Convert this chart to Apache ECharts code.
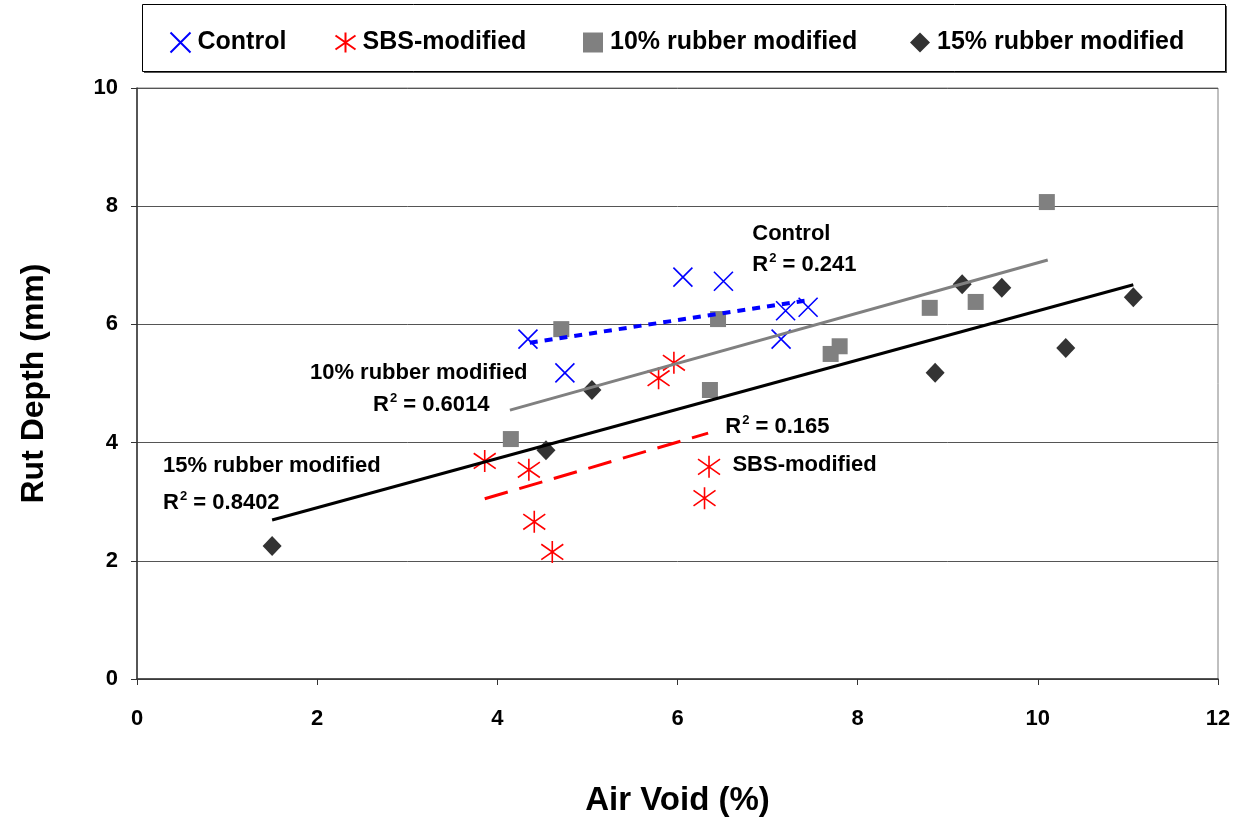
<!DOCTYPE html>
<html><head><meta charset="utf-8">
<script src="https://cdn.jsdelivr.net/npm/echarts@6/dist/echarts.min.js"></script>
<style>html,body{margin:0;padding:0;background:#fff}#c{width:1248px;height:822px}</style>
</head><body><div id="c"></div>
<script>
// ---- data ----
const seriesNames = ['Control', 'SBS-modified', '10% rubber modified', '15% rubber modified'];

const controlX = [4.34, 4.75, 6.06, 6.51, 7.20, 7.45, 7.15];
const controlY = [5.75, 5.18, 6.80, 6.73, 6.23, 6.29, 5.75];

const sbsX = [3.86, 4.35, 4.41, 4.61, 5.79, 5.96, 6.35, 6.30];
const sbsY = [3.69, 3.54, 2.66, 2.15, 5.09, 5.35, 3.59, 3.06];

const rub10X = [4.15, 4.71, 6.45, 6.36, 7.70, 7.80, 8.80, 9.31, 10.10];
const rub10Y = [4.06, 5.92, 6.09, 4.89, 5.50, 5.63, 6.28, 6.38, 8.07];

const rub15X = [1.50, 4.54, 5.05, 9.16, 9.60, 8.86, 10.31, 11.06];
const rub15Y = [2.25, 3.87, 4.89, 6.68, 6.62, 5.18, 5.60, 6.46];

// trend line end points (x1, y1, x2, y2) as drawn in the reference
const controlTrend = [4.36, 5.69, 7.45, 6.41];
const sbsTrend = [3.86, 3.05, 6.34, 4.16];
const rub10Trend = [4.14, 4.55, 10.11, 7.09];
const rub15Trend = [1.50, 2.69, 11.06, 6.67];

// annotation labels (text, anchor in data coords)
const noteText = ['Control', 'R2=0.241', '10% rubber modified', 'R2=0.6014', '15% rubber modified', 'R2=0.8402', 'R2=0.165', 'SBS-modified'];
const noteX = [6.83, 6.83, 1.92, 2.62, 0.29, 0.29, 6.53, 6.61];
const noteY = [7.53, 7.01, 5.18, 4.64, 3.61, 2.98, 4.26, 3.63];

const xTicks = {min: 0, max: 12, interval: 2};
const yTicks = {min: 0, max: 10, interval: 2};

// ---- chart ----
const FONT = '"Liberation Sans", Arial, sans-serif';
const zip = (a, b) => a.map((v, i) => [v, b[i]]);
const seg = t => [[t[0], t[1]], [t[2], t[3]]];

const chart = echarts.init(document.getElementById('c'));

const legendLeft = [168, 333, 583, 910];
const legends = seriesNames.map((n, i) => ({
  data: [n], left: legendLeft[i], top: 30, padding: 0,
  itemWidth: 20, itemHeight: 20, itemGap: 0,
  textStyle: {fontFamily: FONT, fontWeight: 'bold', fontSize: 25, color: '#000', padding: [0, 0, 0, 2]}
}));

function noteLabel(t) {
  if (t.startsWith('R2=')) {
    return '{t|R}{s|2}{t| = ' + t.slice(3) + '}';
  }
  return '{t|' + t + '}';
}

const option = {
  animation: false,
  backgroundColor: '#fff',
  graphic: [
    {type: 'rect', left: 144, top: 6, shape: {width: 1083, height: 67}, style: {fill: '#555'}, z: -2},
    {type: 'rect', left: 142, top: 4, shape: {width: 1083, height: 67}, style: {fill: '#fff', stroke: '#000', lineWidth: 1}, z: -1}
  ],
  legend: legends,
  grid: {left: 137, right: 30, top: 88, bottom: 143, show: true, borderColor: '#808080', borderWidth: 1},
  xAxis: {
    type: 'value', min: xTicks.min, max: xTicks.max, interval: xTicks.interval,
    name: 'Air Void (%)', nameLocation: 'middle', nameGap: 105,
    nameTextStyle: {fontFamily: FONT, fontWeight: 'bold', fontSize: 33, color: '#000'},
    axisLine: {show: true, onZero: false, lineStyle: {color: '#333', width: 1.5}},
    axisTick: {show: true, length: 6, lineStyle: {color: '#333'}},
    axisLabel: {margin: 29, fontFamily: FONT, fontWeight: 'bold', fontSize: 22, color: '#000'},
    splitLine: {show: false}
  },
  yAxis: {
    type: 'value', min: yTicks.min, max: yTicks.max, interval: yTicks.interval,
    name: 'Rut Depth (mm)', nameLocation: 'middle', nameGap: 87,
    nameTextStyle: {fontFamily: FONT, fontWeight: 'bold', fontSize: 32, color: '#000'},
    axisLine: {show: true, onZero: false, lineStyle: {color: '#333', width: 1.5}},
    axisTick: {show: true, length: 6, lineStyle: {color: '#333'}},
    axisLabel: {margin: 19, fontFamily: FONT, fontWeight: 'bold', fontSize: 22, color: '#000'},
    splitLine: {show: true, lineStyle: {color: '#555', width: 1}}
  },
  series: [
    {name: seriesNames[0], type: 'scatter', data: zip(controlX, controlY),
     symbol: 'path://M0,0L10,10M10,0L0,10', symbolSize: 19,
     itemStyle: {color: 'none', borderColor: '#0000ff', borderWidth: 1.6, opacity: 1}},
    {name: seriesNames[1], type: 'scatter', data: zip(sbsX, sbsY),
     symbol: 'path://M5,0L5,10M0,1.5L10,8.5M10,1.5L0,8.5', symbolSize: 22,
     itemStyle: {color: 'none', borderColor: '#ff0000', borderWidth: 1.6, opacity: 1}},
    {name: seriesNames[2], type: 'scatter', data: zip(rub10X, rub10Y),
     symbol: 'rect', symbolSize: 16, itemStyle: {color: '#808080', opacity: 1}},
    {name: seriesNames[3], type: 'scatter', data: zip(rub15X, rub15Y),
     symbol: 'diamond', symbolSize: [19, 20], itemStyle: {color: '#333333', opacity: 1}},
    {type: 'line', data: seg(controlTrend), showSymbol: false, symbol: 'none', silent: true,
     lineStyle: {color: '#0000ff', width: 4, type: [8, 7]}, z: 3},
    {type: 'line', data: seg(sbsTrend), showSymbol: false, symbol: 'none', silent: true,
     lineStyle: {color: '#ff0000', width: 3, type: [24, 12]}, z: 3},
    {type: 'line', data: seg(rub10Trend), showSymbol: false, symbol: 'none', silent: true,
     lineStyle: {color: '#808080', width: 3}, z: 3},
    {type: 'line', data: seg(rub15Trend), showSymbol: false, symbol: 'none', silent: true,
     lineStyle: {color: '#000', width: 3}, z: 3},
    {type: 'scatter', silent: true, symbolSize: 0, z: 5,
     itemStyle: {opacity: 1},
     data: noteText.map((t, i) => ({value: [noteX[i], noteY[i]], name: t})),
     label: {
       show: true, position: 'right', distance: 0, color: '#000',
       formatter: p => noteLabel(p.name),
       rich: {
         t: {fontFamily: FONT, fontWeight: 'bold', fontSize: 22, color: '#000', lineHeight: 26},
         s: {fontFamily: FONT, fontWeight: 'bold', fontSize: 13, color: '#000', lineHeight: 26, verticalAlign: 'top', padding: [0, 0, 10, 1]}
       }
     }}
  ]
};
chart.setOption(option);
</script>
</body></html>
